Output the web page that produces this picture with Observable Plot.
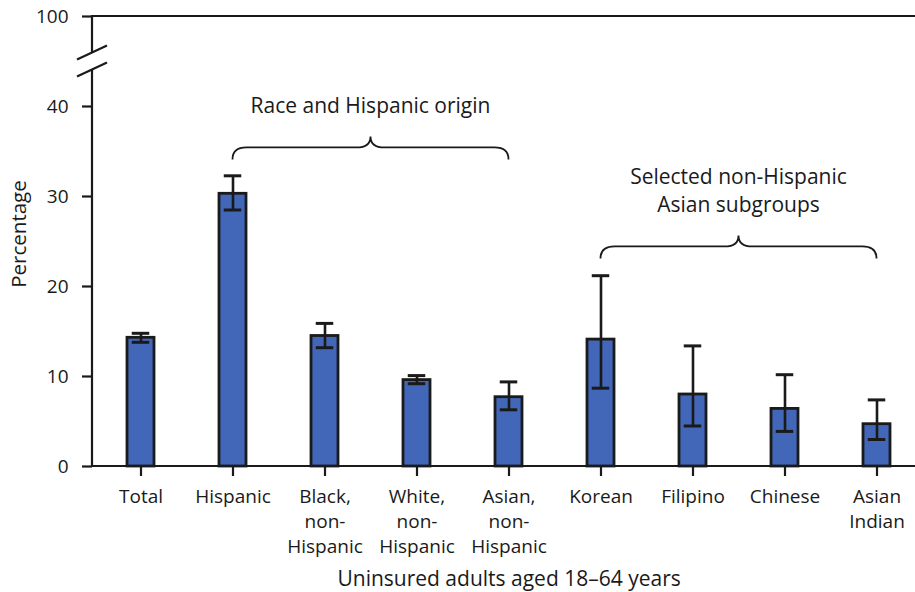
<!DOCTYPE html>
<html>
<head>
<meta charset="utf-8">
<script src="https://cdn.jsdelivr.net/npm/d3@7"></script>
<script src="https://cdn.jsdelivr.net/npm/@observablehq/plot@0.6"></script>
<style>
  html, body { margin: 0; padding: 0; background: #fff; }
  #chart svg { display: block; }
</style>
</head>
<body>
<div id="chart"></div>
<script>
const categories = ["Total", "Hispanic", "Black, non-Hispanic", "White, non-Hispanic", "Asian, non-Hispanic", "Korean", "Filipino", "Chinese", "Asian Indian"];
const tickLabels = ["Total", "Hispanic", "Black,\nnon-\nHispanic", "White,\nnon-\nHispanic", "Asian,\nnon-\nHispanic", "Korean", "Filipino", "Chinese", "Asian\nIndian"];
const percent = [14.3, 30.3, 14.5, 9.6, 7.7, 14.1, 8.0, 6.4, 4.7];
const ciLow  = [13.8, 28.5, 13.2, 9.2, 6.3, 8.7, 4.5, 3.9, 3.0];
const ciHigh = [14.8, 32.3, 15.9, 10.1, 9.4, 21.2, 13.4, 10.2, 7.4];

const yTicks = [0, 10, 20, 30, 40, 50];
const yTickLabels = ["0", "10", "20", "30", "40", "100"];

const groupLabels = [["Race and Hispanic origin"], ["Selected non-Hispanic", "Asian subgroups"]];
const groupStart = ["Hispanic", "Korean"];
const groupEnd = ["Asian, non-Hispanic", "Asian Indian"];
const groupLevel = [35.4, 24.4];

const xTitle = "Uninsured adults aged 18\u201364 years";
const yTitle = "Percentage";

const data = categories.map((c, i) => ({category: c, value: percent[i], lo: ciLow[i], hi: ciHigh[i]}));

const W = 915, H = 592;
const FONT = "Open Sans";
const INK = "#1a1a1a";

function decorations(index, scales, values, dims) {
  const x = scales.x, y = scales.y;
  const bw = x.bandwidth ? x.bandwidth() : 0;
  const cx = c => x(c) + bw / 2;
  const g = d3.create("svg:g");
  const left = dims.marginLeft, right = dims.width - dims.marginRight;

  const yTop = y(50), y0 = y(0), y40 = y(40);
  const breakMid = (yTop + y40) / 2;
  const gap = 8.5;
  g.append("line").attr("x1", left).attr("x2", right).attr("y1", y0).attr("y2", y0)
    .attr("stroke", INK).attr("stroke-width", 2.2);
  g.append("line").attr("x1", left).attr("x2", right).attr("y1", yTop).attr("y2", yTop)
    .attr("stroke", INK).attr("stroke-width", 2.2);
  g.append("line").attr("x1", left).attr("x2", left).attr("y1", y0 + 1).attr("y2", breakMid + gap)
    .attr("stroke", INK).attr("stroke-width", 2.2);
  g.append("line").attr("x1", left).attr("x2", left).attr("y1", breakMid - gap).attr("y2", yTop - 1)
    .attr("stroke", INK).attr("stroke-width", 2.2);
  for (const s of [-1, 1]) {
    const yc = breakMid + s * gap;
    g.append("line").attr("x1", left - 15).attr("x2", left + 15)
      .attr("y1", yc + 7).attr("y2", yc - 7)
      .attr("stroke", INK).attr("stroke-width", 2.2);
  }

  groupLabels.forEach((lines, i) => {
    const x1 = cx(groupStart[i]), x2 = cx(groupEnd[i]);
    const xm = (x1 + x2) / 2;
    const yb = y(groupLevel[i]);
    const r = 14, h = 12, t = 11;
    const d = `M${x1},${yb + h} Q${x1},${yb} ${x1 + r},${yb} L${xm - r},${yb} Q${xm},${yb} ${xm},${yb - t} Q${xm},${yb} ${xm + r},${yb} L${x2 - r},${yb} Q${x2},${yb} ${x2},${yb + h}`;
    g.append("path").attr("d", d).attr("fill", "none").attr("stroke", INK).attr("stroke-width", 1.8);
    const n = lines.length;
    lines.forEach((line, j) => {
      g.append("text").attr("x", xm).attr("y", yb - 34 - (n - 1 - j) * 28)
        .attr("text-anchor", "middle").attr("font-size", 21).attr("fill", INK)
        .attr("font-family", FONT).text(line);
    });
  });

  const xr = x.range ? x.range() : [left, right];
  const xMid = (xr[0] + xr[xr.length - 1]) / 2;
  g.append("text").attr("x", xMid).attr("y", 586).attr("text-anchor", "middle")
    .attr("font-size", 21).attr("fill", INK).attr("font-family", FONT).text(xTitle);
  g.append("text").attr("transform", `translate(26,${(y0 + yTop) / 2 - 7}) rotate(-90)`)
    .attr("text-anchor", "middle").attr("font-size", 20.5).attr("fill", INK)
    .attr("font-family", FONT).text(yTitle);
  return g.node();
}

const chart = Plot.plot({
  width: W,
  height: H,
  marginLeft: 92,
  marginRight: 0,
  marginTop: 16,
  marginBottom: 126,
  style: {fontFamily: FONT, fontSize: "18px", color: INK, background: "#fff", overflow: "visible"},
  x: {type: "band", domain: categories, range: [91.95, 926.25], paddingInner: 0.703, paddingOuter: 0.3515, align: 0.5, axis: null},
  y: {domain: [0, 50], axis: null},
  marks: [
    Plot.barY(data, {x: "category", y: "value", fill: "#4267b8", stroke: INK, strokeWidth: 2.8}),
    Plot.ruleX(data, {x: "category", y1: "lo", y2: "hi", stroke: INK, strokeWidth: 2.6}),
    Plot.tickY(data, {x: "category", y: "lo", stroke: INK, strokeWidth: 3, insetLeft: 4.75, insetRight: 4.75}),
    Plot.tickY(data, {x: "category", y: "hi", stroke: INK, strokeWidth: 3, insetLeft: 4.75, insetRight: 4.75}),
    Plot.axisY({ticks: yTicks, tickFormat: d => yTickLabels[yTicks.indexOf(d)], tickSize: 10, tickPadding: 14, fontSize: 19, strokeWidth: 2.2, stroke: INK, fill: INK, label: null}),
    Plot.axisX({tickFormat: d => tickLabels[categories.indexOf(d)], tickSize: 10, tickPadding: 9, fontSize: 19, lineHeight: 1.32, strokeWidth: 2.2, stroke: INK, fill: INK, label: null}),
    decorations
  ]
});
document.getElementById("chart").appendChild(chart);
</script>
</body>
</html>
